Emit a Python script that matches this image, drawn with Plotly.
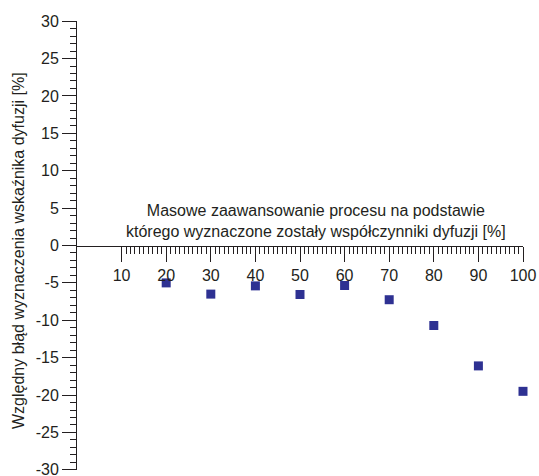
import plotly.graph_objects as go

x_vals = [20, 30, 40, 50, 60, 70, 80, 90, 100]
y_vals = [-5.0, -6.5, -5.4, -6.55, -5.35, -7.25, -10.7, -16.1, -19.5]
x_ticks = [10, 20, 30, 40, 50, 60, 70, 80, 90, 100]
y_ticks = [-30, -25, -20, -15, -10, -5, 0, 5, 10, 15, 20, 25, 30]

font_family = "Liberation Sans, Arial, sans-serif"
marker_color = "#2E3192"
ink = "#231F20"

W, H = 539, 476
ML, MR, MT, MB = 77, 16, 21, 6

fig = go.Figure()
fig.add_trace(go.Scatter(
    x=x_vals, y=y_vals, mode="markers",
    marker=dict(symbol="square", size=9, color=marker_color),
    showlegend=False, cliponaxis=False,
))

plot_w = W - ML - MR
plot_h = H - MT - MB

fig.update_layout(
    width=W, height=H,
    margin=dict(l=ML, r=MR, t=MT, b=MB, autoexpand=False),
    paper_bgcolor="white", plot_bgcolor="white",
    font=dict(family=font_family, size=16, color=ink),
    xaxis=dict(
        range=[0, 100], anchor="free", position=0.5, automargin=False,
        showgrid=False, zeroline=False,
        showline=True, linecolor=ink, linewidth=1,
        tickmode="array", tickvals=x_ticks, ticktext=[str(v) for v in x_ticks],
        ticks="outside", ticklen=15, tickwidth=1, tickcolor=ink,
        tickfont=dict(size=16), ticklabeloverflow="allow",
        minor=dict(tickmode="array", tickvals=list(range(10, 101)),
                   ticks="outside", ticklen=7, tickwidth=1, tickcolor=ink),
    ),
    yaxis=dict(
        range=[-30.02, 30.02], automargin=False,
        showgrid=False, zeroline=False,
        showline=True, linecolor=ink, linewidth=1,
        tickmode="array", tickvals=y_ticks, ticktext=[str(v) for v in y_ticks],
        ticks="outside", ticklen=14, tickwidth=1, tickcolor=ink,
        tickfont=dict(size=16), ticklabeloverflow="allow",
        minor=dict(tickmode="array", tickvals=list(range(-30, 31)),
                   ticks="outside", ticklen=6, tickwidth=1, tickcolor=ink),
    ),
    annotations=[
        dict(text="Masowe zaawansowanie procesu na podstawie<br>którego wyznaczone zostały współczynniki dyfuzji [%]",
             x=53.6, y=3.3, xref="x", yref="y", showarrow=False,
             xanchor="center", yanchor="middle", font=dict(size=16)),
        dict(text="Względny błąd wyznaczenia wskaźnika dyfuzji [%]",
             x=(18 - ML) / plot_w, y=(H - MB - 251) / plot_h,
             xref="paper", yref="paper", showarrow=False,
             xanchor="center", yanchor="middle",
             textangle=-90, font=dict(size=16)),
    ],
)

fig.write_html("out.html")
